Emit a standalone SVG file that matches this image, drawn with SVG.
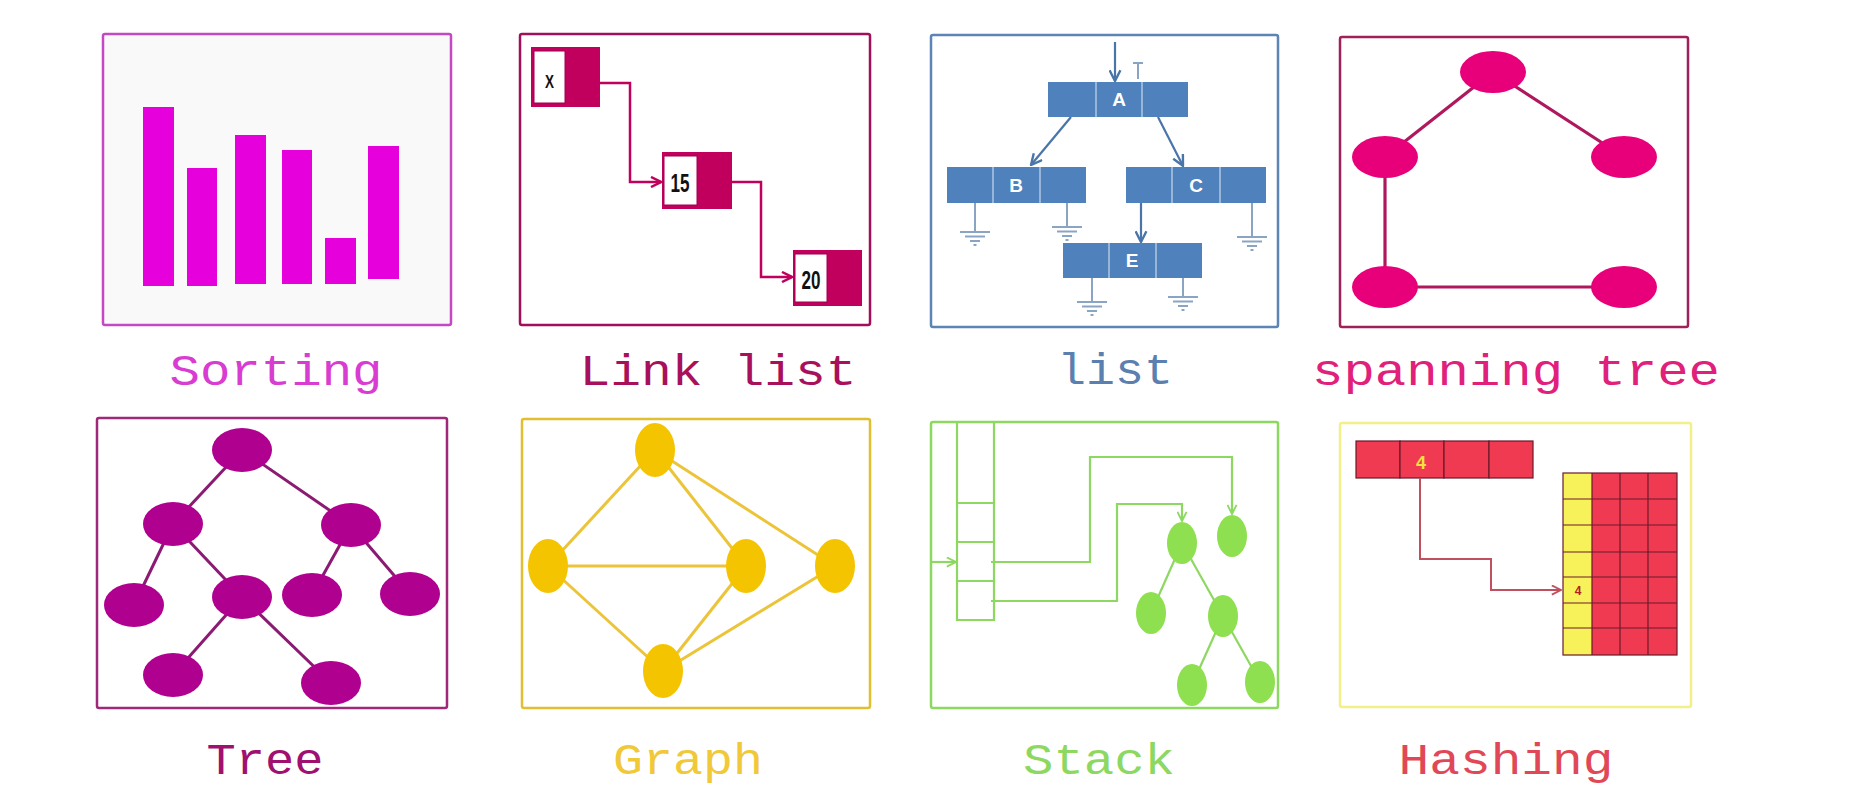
<svg xmlns="http://www.w3.org/2000/svg" width="1870" height="804" viewBox="0 0 1870 804">
<style>
.lbl{font-family:"Liberation Mono","Courier New",monospace;font-size:44px;text-anchor:middle}
.frame{fill:#ffffff;stroke-width:2.5}
.ll-dark{fill:#c0005c}
.ll-white{fill:#ffffff;stroke:#a00050;stroke-width:1}
.ll-txt{font-family:"Liberation Sans",Arial,sans-serif;fill:#111;font-weight:bold;text-anchor:middle}
.lb-box{fill:#4f81bd}
.lb-div{stroke:#c8d8ec;stroke-width:1.2}
.lb-txt{font-family:"Liberation Sans",Arial,sans-serif;fill:#ffffff;font-weight:bold;font-size:19px;text-anchor:middle}
.gnd{stroke:#8aa4c4;stroke-width:2;fill:none}
.hs-red{fill:#ef3a52;stroke:#6a1a2a;stroke-width:1.2}
</style>
<defs>
<marker id="arLL" viewBox="0 0 12 12" refX="11" refY="6" markerWidth="12" markerHeight="12" markerUnits="userSpaceOnUse" orient="auto"><path d="M1,1 L11,6 L1,11" fill="none" stroke="#c0005c" stroke-width="2.5"/></marker>
<marker id="arLB" viewBox="0 0 12 12" refX="11" refY="6" markerWidth="13" markerHeight="13" markerUnits="userSpaceOnUse" orient="auto"><path d="M1,1 L11,6 L1,11" fill="none" stroke="#4a75a8" stroke-width="2.2"/></marker>
<marker id="arST" viewBox="0 0 12 12" refX="11" refY="6" markerWidth="11" markerHeight="11" markerUnits="userSpaceOnUse" orient="auto"><path d="M1,1 L11,6 L1,11" fill="none" stroke="#8cd860" stroke-width="2"/></marker>
<marker id="arHS" viewBox="0 0 12 12" refX="11" refY="6" markerWidth="11" markerHeight="11" markerUnits="userSpaceOnUse" orient="auto"><path d="M1,1 L11,6 L1,11" fill="none" stroke="#c05060" stroke-width="2"/></marker>
<g id="ground" class="gnd"><line x1="-15" y1="0" x2="15" y2="0"/><line x1="-10" y1="4.5" x2="10" y2="4.5"/><line x1="-5" y1="9" x2="5" y2="9"/><line x1="-1.5" y1="13" x2="1.5" y2="13"/></g>
</defs>
<rect width="1870" height="804" fill="#ffffff"/>

<!-- Sorting -->
<g id="sorting">
<rect class="frame" x="103" y="34" width="348" height="291" rx="2" stroke="#c448c4" style="fill:#f9f9f9"/>
<g fill="#e600dc">
<rect id="bar1" x="143" y="107" width="31" height="179"/>
<rect id="bar2" x="187" y="168" width="30" height="118"/>
<rect id="bar3" x="235" y="135" width="31" height="149"/>
<rect id="bar4" x="282" y="150" width="30" height="134"/>
<rect id="bar5" x="325" y="238" width="31" height="46"/>
<rect id="bar6" x="368" y="146" width="31" height="133"/>
</g>
<text class="lbl" x="276" y="385" fill="#d83cd0" textLength="213" lengthAdjust="spacingAndGlyphs">Sorting</text>
</g>

<!-- Link list -->
<g id="linklist">
<rect class="frame" x="520" y="34" width="350" height="291" rx="2" stroke="#a0105a"/>
<g id="ll-connectors" fill="none" stroke="#c0005c" stroke-width="2.5">
<path d="M600,83 H630 V182 H661" marker-end="url(#arLL)"/>
<path d="M732,182 H761 V277 H792" marker-end="url(#arLL)"/>
</g>
<g id="ll-node-x">
<rect class="ll-dark" x="531" y="47" width="69" height="60"/>
<rect class="ll-white" x="534" y="51" width="31" height="52"/>
<text class="ll-txt" x="549.5" y="88" font-size="18" textLength="9" lengthAdjust="spacingAndGlyphs">X</text>
</g>
<g id="ll-node-15">
<rect class="ll-dark" x="662" y="152" width="70" height="57"/>
<rect class="ll-white" x="664" y="156" width="33" height="49"/>
<text class="ll-txt" x="680" y="192" font-size="26" textLength="19" lengthAdjust="spacingAndGlyphs">15</text>
</g>
<g id="ll-node-20">
<rect class="ll-dark" x="793" y="250" width="69" height="56"/>
<rect class="ll-white" x="795" y="254" width="32" height="48"/>
<text class="ll-txt" x="811" y="289" font-size="26" textLength="19" lengthAdjust="spacingAndGlyphs">20</text>
</g>
<text class="lbl" x="718" y="385" fill="#a8105c" textLength="277" lengthAdjust="spacingAndGlyphs">Link list</text>
</g>

<!-- list -->
<g id="list">
<rect class="frame" x="931" y="35" width="347" height="292" rx="2" stroke="#5a85b5"/>
<g id="lb-connectors" fill="none" stroke="#4a75a8" stroke-width="2.2">
<line x1="1115" y1="42" x2="1115" y2="81" marker-end="url(#arLB)"/>
<line x1="1071" y1="117" x2="1031" y2="165" marker-end="url(#arLB)"/>
<line x1="1158" y1="117" x2="1183" y2="166" marker-end="url(#arLB)"/>
<line x1="1141" y1="203" x2="1141" y2="242" marker-end="url(#arLB)"/>
</g>
<g class="gnd">
<line x1="1133" y1="63" x2="1143" y2="63"/><line x1="1138" y1="63" x2="1138" y2="79"/>
<line x1="975" y1="203" x2="975" y2="232"/>
<line x1="1067" y1="203" x2="1067" y2="227"/>
<line x1="1252" y1="203" x2="1252" y2="237"/>
<line x1="1092" y1="278" x2="1092" y2="302"/>
<line x1="1183" y1="278" x2="1183" y2="297"/>
</g>
<use href="#ground" x="975" y="232"/>
<use href="#ground" x="1067" y="227"/>
<use href="#ground" x="1252" y="237"/>
<use href="#ground" x="1092" y="302"/>
<use href="#ground" x="1183" y="297"/>
<g id="lb-node-a">
<rect class="lb-box" x="1048" y="82" width="140" height="35"/>
<line class="lb-div" x1="1096" y1="82" x2="1096" y2="117"/><line class="lb-div" x1="1142" y1="82" x2="1142" y2="117"/>
<text class="lb-txt" x="1119" y="106">A</text>
</g>
<g id="lb-node-b">
<rect class="lb-box" x="947" y="167" width="139" height="36"/>
<line class="lb-div" x1="993" y1="167" x2="993" y2="203"/><line class="lb-div" x1="1040" y1="167" x2="1040" y2="203"/>
<text class="lb-txt" x="1016" y="192">B</text>
</g>
<g id="lb-node-c">
<rect class="lb-box" x="1126" y="167" width="140" height="36"/>
<line class="lb-div" x1="1172" y1="167" x2="1172" y2="203"/><line class="lb-div" x1="1220" y1="167" x2="1220" y2="203"/>
<text class="lb-txt" x="1196" y="192">C</text>
</g>
<g id="lb-node-e">
<rect class="lb-box" x="1063" y="243" width="139" height="35"/>
<line class="lb-div" x1="1109" y1="243" x2="1109" y2="278"/><line class="lb-div" x1="1156" y1="243" x2="1156" y2="278"/>
<text class="lb-txt" x="1132" y="267">E</text>
</g>
<text class="lbl" x="1115" y="384" fill="#5b80b0" textLength="116" lengthAdjust="spacingAndGlyphs">list</text>
</g>

<!-- spanning tree -->
<g id="spanningtree">
<rect class="frame" x="1340" y="37" width="348" height="290" rx="2" stroke="#a0205a"/>
<g id="sp-connectors" stroke="#b0185e" stroke-width="3.2">
<line x1="1493" y1="72" x2="1385" y2="157"/>
<line x1="1493" y1="72" x2="1624" y2="157"/>
<line x1="1385" y1="157" x2="1385" y2="287"/>
<line x1="1385" y1="287" x2="1624" y2="287"/>
</g>
<g fill="#e8007a">
<ellipse id="sp-n1" cx="1493" cy="72" rx="33" ry="21"/>
<ellipse id="sp-n2" cx="1385" cy="157" rx="33" ry="21"/>
<ellipse id="sp-n3" cx="1624" cy="157" rx="33" ry="21"/>
<ellipse id="sp-n4" cx="1385" cy="287" rx="33" ry="21"/>
<ellipse id="sp-n5" cx="1624" cy="287" rx="33" ry="21"/>
</g>
<text class="lbl" x="1516" y="385" fill="#e0207a" textLength="408" lengthAdjust="spacingAndGlyphs">spanning tree</text>
</g>

<!-- Tree -->
<g id="tree">
<rect class="frame" x="97" y="418" width="350" height="290" rx="2" stroke="#a0287a"/>
<g id="tr-connectors" stroke="#8b1a72" stroke-width="3">
<line x1="242" y1="450" x2="173" y2="524"/>
<line x1="242" y1="450" x2="351" y2="525"/>
<line x1="173" y1="524" x2="134" y2="605"/>
<line x1="173" y1="524" x2="242" y2="597"/>
<line x1="351" y1="525" x2="312" y2="595"/>
<line x1="351" y1="525" x2="410" y2="594"/>
<line x1="242" y1="597" x2="173" y2="675"/>
<line x1="242" y1="597" x2="331" y2="683"/>
</g>
<g fill="#b0008f">
<ellipse id="tr-n1" cx="242" cy="450" rx="30" ry="22"/>
<ellipse id="tr-n2" cx="173" cy="524" rx="30" ry="22"/>
<ellipse id="tr-n3" cx="351" cy="525" rx="30" ry="22"/>
<ellipse id="tr-n4" cx="134" cy="605" rx="30" ry="22"/>
<ellipse id="tr-n5" cx="242" cy="597" rx="30" ry="22"/>
<ellipse id="tr-n6" cx="312" cy="595" rx="30" ry="22"/>
<ellipse id="tr-n7" cx="410" cy="594" rx="30" ry="22"/>
<ellipse id="tr-n8" cx="173" cy="675" rx="30" ry="22"/>
<ellipse id="tr-n9" cx="331" cy="683" rx="30" ry="22"/>
</g>
<text class="lbl" x="265" y="774" fill="#a01070" textLength="117" lengthAdjust="spacingAndGlyphs">Tree</text>
</g>

<!-- Graph -->
<g id="graph">
<rect class="frame" x="522" y="419" width="348" height="289" rx="2" stroke="#e0c030"/>
<g id="gr-connectors" stroke="#ecc43a" stroke-width="3">
<line x1="655" y1="450" x2="548" y2="566"/>
<line x1="655" y1="450" x2="746" y2="566"/>
<line x1="655" y1="450" x2="835" y2="566"/>
<line x1="548" y1="566" x2="746" y2="566"/>
<line x1="548" y1="566" x2="663" y2="671"/>
<line x1="746" y1="566" x2="663" y2="671"/>
<line x1="835" y1="566" x2="663" y2="671"/>
</g>
<g fill="#f5c400">
<ellipse id="gr-n1" cx="655" cy="450" rx="20" ry="27"/>
<ellipse id="gr-n2" cx="548" cy="566" rx="20" ry="27"/>
<ellipse id="gr-n3" cx="746" cy="566" rx="20" ry="27"/>
<ellipse id="gr-n4" cx="835" cy="566" rx="20" ry="27"/>
<ellipse id="gr-n5" cx="663" cy="671" rx="20" ry="27"/>
</g>
<text class="lbl" x="688" y="774" fill="#f0c838" textLength="150" lengthAdjust="spacingAndGlyphs">Graph</text>
</g>

<!-- Stack -->
<g id="stack">
<rect class="frame" x="931" y="422" width="347" height="286" rx="2" stroke="#8cd860"/>
<g id="st-stack" fill="none" stroke="#8cd860" stroke-width="2.2">
<path d="M957,422 V620 H994 V422"/>
<line x1="957" y1="503" x2="994" y2="503"/>
<line x1="957" y1="542" x2="994" y2="542"/>
<line x1="957" y1="581" x2="994" y2="581"/>
</g>
<g id="st-connectors" fill="none" stroke="#8cd860" stroke-width="2.2">
<path d="M931,562 H956" marker-end="url(#arST)"/>
<path d="M991,562 H1090 V457 H1232 V514" marker-end="url(#arST)"/>
<path d="M991,601 H1117 V504 H1182 V521" marker-end="url(#arST)"/>
<line x1="1182" y1="543" x2="1151" y2="613"/>
<line x1="1182" y1="543" x2="1223" y2="616"/>
<line x1="1223" y1="616" x2="1192" y2="685"/>
<line x1="1223" y1="616" x2="1260" y2="682"/>
</g>
<g fill="#8ee050">
<ellipse id="st-n1" cx="1182" cy="543" rx="15" ry="21"/>
<ellipse id="st-n2" cx="1232" cy="536" rx="15" ry="21"/>
<ellipse id="st-n3" cx="1151" cy="613" rx="15" ry="21"/>
<ellipse id="st-n4" cx="1223" cy="616" rx="15" ry="21"/>
<ellipse id="st-n5" cx="1192" cy="685" rx="15" ry="21"/>
<ellipse id="st-n6" cx="1260" cy="682" rx="15" ry="21"/>
</g>
<text class="lbl" x="1099" y="774" fill="#8cd860" textLength="152" lengthAdjust="spacingAndGlyphs">Stack</text>
</g>

<!-- Hashing -->
<g id="hashing">
<rect class="frame" x="1340" y="423" width="351" height="284" rx="2" stroke="#f2f08a"/>
<g id="hs-array">
<rect class="hs-red" x="1356" y="441" width="44" height="37"/>
<rect class="hs-red" x="1400" y="441" width="44" height="37"/>
<rect class="hs-red" x="1444" y="441" width="45" height="37"/>
<rect class="hs-red" x="1489" y="441" width="44" height="37"/>
<text x="1421" y="469" font-family="Liberation Sans,Arial,sans-serif" font-weight="bold" font-size="18" fill="#f8e040" text-anchor="middle">4</text>
</g>
<g id="hs-connectors" fill="none" stroke="#c05060" stroke-width="2">
<path d="M1420,478 V559 H1491 V590 H1561" marker-end="url(#arHS)"/>
</g>
<g id="hs-table">
<rect x="1563" y="473" width="29" height="182" fill="#f8f25a"/>
<rect x="1592" y="473" width="85" height="182" fill="#ef3a52"/>
<g stroke="#6a1a2a" stroke-width="1.2" fill="none">
<rect x="1563" y="473" width="114" height="182"/>
<line x1="1592" y1="473" x2="1592" y2="655"/>
<line x1="1620" y1="473" x2="1620" y2="655"/>
<line x1="1648" y1="473" x2="1648" y2="655"/>
<line x1="1563" y1="499" x2="1677" y2="499"/>
<line x1="1563" y1="525" x2="1677" y2="525"/>
<line x1="1563" y1="552" x2="1677" y2="552"/>
<line x1="1563" y1="577" x2="1677" y2="577"/>
<line x1="1563" y1="603" x2="1677" y2="603"/>
<line x1="1563" y1="628" x2="1677" y2="628"/>
</g>
<text x="1578" y="595" font-family="Liberation Sans,Arial,sans-serif" font-weight="bold" font-size="12" fill="#b02020" text-anchor="middle">4</text>
</g>
<text class="lbl" x="1506" y="774" fill="#e04858" textLength="215" lengthAdjust="spacingAndGlyphs">Hashing</text>
</g>
</svg>
